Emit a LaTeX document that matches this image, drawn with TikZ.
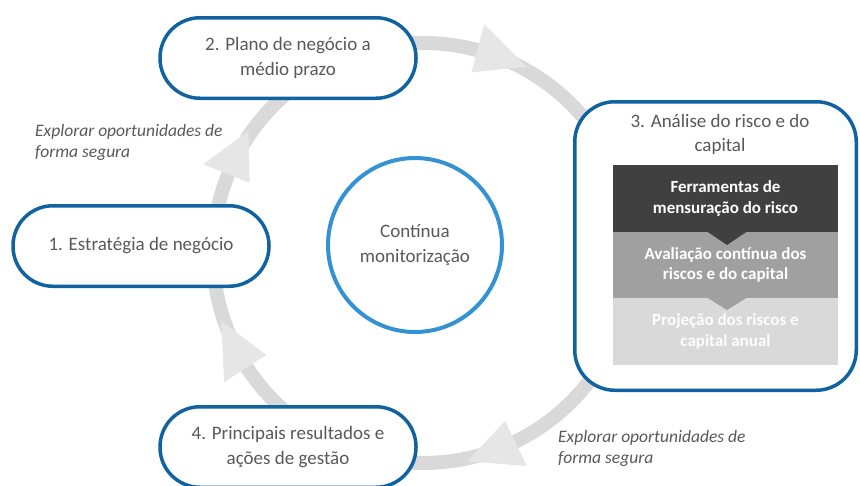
\documentclass[tikz,border=0pt]{standalone}
\usepackage{fontspec}
\setmainfont{Carlito}
\begin{document}
\begin{tikzpicture}[x=1pt,y=-1pt]
\definecolor{ringgray}{HTML}{D9D9D9}
\definecolor{arrowgray}{HTML}{E6E6E6}
\definecolor{nodeblue}{RGB}{16,99,160}
\definecolor{circblue}{RGB}{52,146,212}
\definecolor{txtgray}{HTML}{595959}
\definecolor{darkbox}{HTML}{404040}
\definecolor{midbox}{HTML}{A0A0A0}
\definecolor{lightbox}{HTML}{D9D9D9}
\tikzset{
  stage/.style={draw=nodeblue, fill=white, line width=3.5pt, rounded corners=40pt,
    minimum width=256pt, minimum height=80.5pt, align=center, text=txtgray,
    font=\fontsize{19}{25}\selectfont, inner sep=0pt},
  layer/.style={minimum width=225pt, inner sep=0pt, outer sep=0pt, align=center,
    text=white, font=\bfseries\fontsize{17}{20.5}\selectfont},
  note/.style={anchor=west, align=left, text=txtgray, font=\itshape\fontsize{17.5}{21}\selectfont, inner sep=0pt},
  ringarrow/.style={fill=arrowgray}
}
\useasboundingbox (0,0) rectangle (860,485);
\coordinate (c) at (423,253);
% ring
\draw[ringgray, line width=14pt] (c) circle (210pt);
% arrow heads
\foreach \t/\b in {61/75, 145/158, 198.6/213, 282/296}{
  \fill[ringarrow] ([shift={(c)}]-\t:213) -- ([shift={(c)}]-\b:237) -- ([shift={(c)}]-\b:187) -- cycle;
}
% stage nodes
\node[stage] (n2) at (288,58) {2. Plano de negócio a\\médio prazo};
\node[stage] (n1) at (141,246) {1. Estratégia de negócio};
\node[stage] (n4) at (288,447) {4. Principais resultados e\\ações de gestão};
\node[stage, minimum width=281.5pt, minimum height=288.5pt] (n3) at (715.5,246) {};
\node[text=txtgray, align=center, font=\fontsize{19}{24}\selectfont, inner sep=0pt] (n3t) at (720,134) {3. Análise do risco e do\\capital};
% inner stack
\node[layer, fill=lightbox, minimum height=67pt, text=white!95!lightbox] (l3) at (725.5,331.5) {Projeção dos riscos e\\capital anual};
\node[layer, fill=midbox, minimum height=66pt] (l2) at (725.5,265) {Avaliação contínua dos\\riscos e do capital};
\fill[midbox] (707,297.5) -- (747,297.5) -- (727,310) -- cycle;
\node[layer, fill=darkbox, minimum height=67pt] (l1) at (725.5,198.5) {Ferramentas de\\mensuração do risco};
\fill[darkbox] (707,231.5) -- (747,231.5) -- (727,245) -- cycle;
% center
\node[circle, draw=circblue, line width=4pt, minimum size=174pt, align=center, text=txtgray,
  font=\fontsize{19}{25}\selectfont, inner sep=0pt] (mon) at (415,245) {Contínua\\monitorização};
% notes
\node[note] (e1) at (35,142) {Explorar oportunidades de\\forma segura};
\node[note] (e2) at (558,448) {Explorar oportunidades de\\forma segura};
\end{tikzpicture}
\end{document}
